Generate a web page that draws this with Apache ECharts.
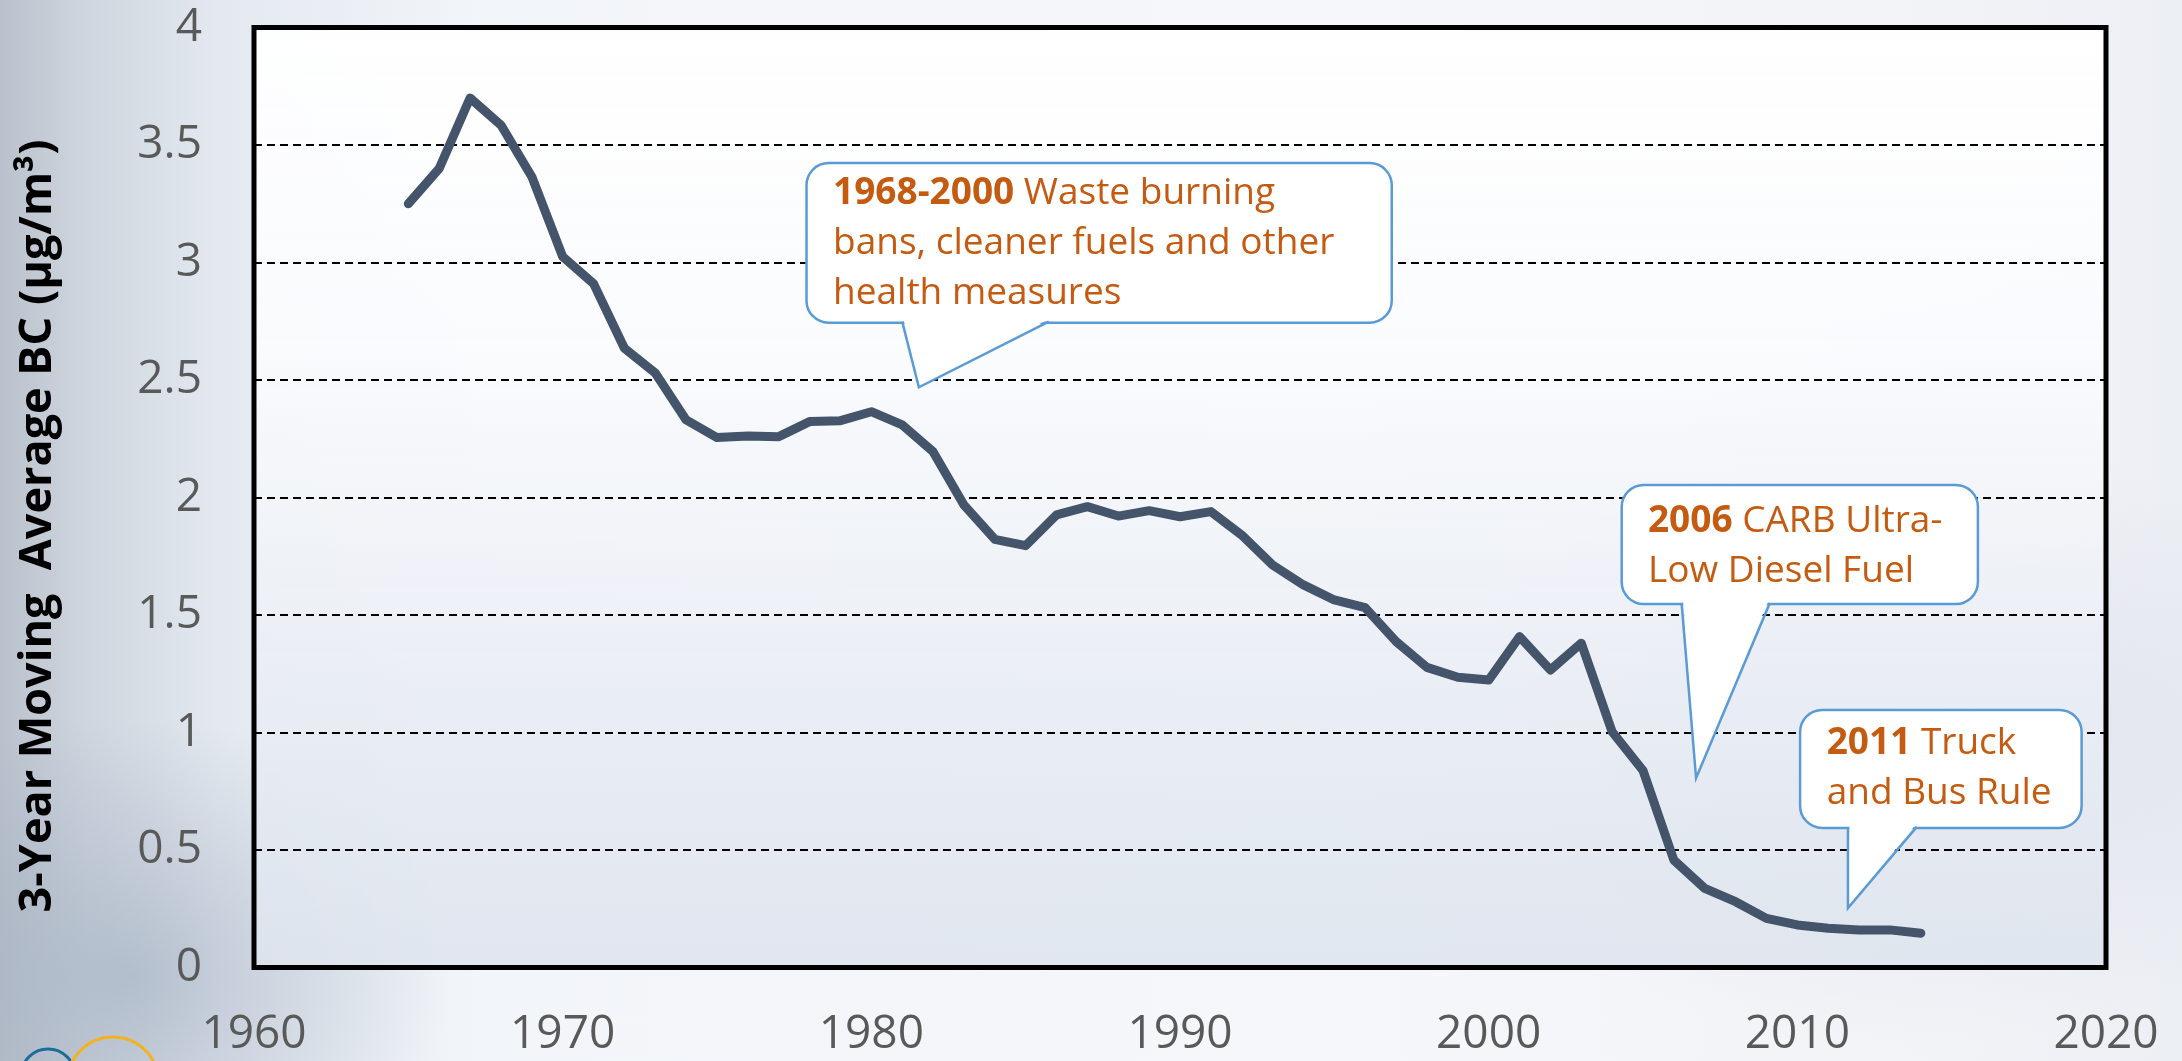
<!DOCTYPE html>
<html>
<head>
<meta charset="utf-8">
<script src="https://cdn.jsdelivr.net/npm/echarts/dist/echarts.min.js"></script>
<style>
html, body { margin: 0; padding: 0; width: 2182px; height: 1061px; overflow: hidden; }
body {
  background:
    radial-gradient(ellipse 320px 260px at 6% 92%, rgba(150,165,185,0.55), rgba(150,165,185,0) 100%),
    radial-gradient(ellipse 500px 300px at 88% 70%, rgba(205,210,222,0.45), rgba(205,210,222,0) 100%),
    linear-gradient(90deg, #b9c1cc 0%, #cfd6df 4%, #e4e9f0 10%, #f2f5f9 22%, #f5f7fa 60%, #f1f3f7 90%, #eceff4 100%);
}
#chart { width: 2182px; height: 1061px; }
</style>
</head>
<body>
<div id="chart"></div>
<script>
// ---- data ----
const years = [1965, 1966, 1967, 1968, 1969, 1970, 1971, 1972, 1973, 1974,
               1975, 1976, 1977, 1978, 1979, 1980, 1981, 1982, 1983, 1984,
               1985, 1986, 1987, 1988, 1989, 1990, 1991, 1992, 1993, 1994,
               1995, 1996, 1997, 1998, 1999, 2000, 2001, 2002, 2003, 2004,
               2005, 2006, 2007, 2008, 2009, 2010, 2011, 2012, 2013, 2014];
const bcValues = [3.25, 3.40, 3.70, 3.585, 3.365, 3.025, 2.91, 2.635, 2.53, 2.33,
                  2.255, 2.262, 2.259, 2.323, 2.327, 2.365, 2.309, 2.195, 1.968, 1.822,
                  1.795, 1.926, 1.961, 1.921, 1.944, 1.918, 1.940, 1.840, 1.713, 1.628,
                  1.564, 1.531, 1.387, 1.277, 1.235, 1.223, 1.408, 1.266, 1.380, 1.003,
                  0.838, 0.457, 0.337, 0.280, 0.209, 0.181, 0.167, 0.160, 0.160, 0.146];
const xRange = [1960, 2020, 10];
const yRange = [0, 4, 0.5];
const yAxisTitle = '3-Year Moving  Average BC (μg/m³)';

// callout texts (bold lead + rest, per line)
const calloutTexts = [
  { bold: '1968-2000', lines: [' Waste burning', 'bans, cleaner fuels and other', 'health measures'] },
  { bold: '2006', lines: [' CARB Ultra-', 'Low Diesel Fuel'] },
  { bold: '2011', lines: [' Truck', 'and Bus Rule'] }
];
// callout anchors in data space: box [x0, x1, yTop, yBottom], tail [baseL, baseR, tipX, tipY], text [x, yTopOfBlock]
const calloutAnchors = [
  { box: [1977.9, 1996.86, 3.423, 2.744], tail: [1981.0, 1985.75, 1981.54, 2.469], text: [1978.76, 3.402] },
  { box: [2004.31, 2015.85, 2.053, 1.547], tail: [2006.25, 2009.11, 2006.72, 0.806], text: [2005.16, 2.004] },
  { box: [2010.09, 2019.21, 1.096, 0.594], tail: [2011.64, 2013.87, 2011.64, 0.253], text: [2010.95, 1.058] }
];

const chart = echarts.init(document.getElementById('chart'), null, { renderer: 'canvas' });

const labelFont = { fontFamily: '"Open Sans", "Noto Sans", sans-serif', fontSize: 46, color: '#595959' };

const option = {
  backgroundColor: 'transparent',
  animation: false,
  grid: {
    left: 254, right: 76, top: 27.5, bottom: 93.5,
    show: true,
    borderColor: '#000', borderWidth: 5,
    backgroundColor: new echarts.graphic.LinearGradient(0, 0, 0, 1, [
      { offset: 0, color: 'rgba(255,255,255,0.96)' },
      { offset: 0.35, color: 'rgba(250,251,253,0.92)' },
      { offset: 0.7, color: 'rgba(233,237,244,0.9)' },
      { offset: 1, color: 'rgba(222,228,238,0.9)' }
    ])
  },
  xAxis: {
    type: 'value', min: xRange[0], max: xRange[1], interval: xRange[2],
    axisLine: { show: false }, axisTick: { show: false }, splitLine: { show: false },
    axisLabel: Object.assign({ margin: 44, formatter: v => String(v) }, labelFont)
  },
  yAxis: {
    type: 'value', min: yRange[0], max: yRange[1], interval: yRange[2],
    axisLine: { show: false }, axisTick: { show: false },
    splitLine: { show: true, lineStyle: { color: '#000', width: 1.8, type: [8, 5] } },
    axisLabel: Object.assign({ margin: 52 }, labelFont)
  },
  series: [{
    type: 'line',
    data: years.map((y, i) => [y, bcValues[i]]),
    showSymbol: false,
    symbol: 'none',
    lineStyle: { color: '#44546A', width: 9, cap: 'round', join: 'round' },
    z: 5
  }]
};
chart.setOption(option);

function px(x, y) { return chart.convertToPixel({ gridIndex: 0 }, [x, y]); }

const graphics = [];
// y axis title
graphics.push({
  type: 'text', x: 38, y: 526, rotation: Math.PI / 2, z: 50,
  style: {
    text: yAxisTitle, fill: '#000',
    font: 'bold 45px "Open Sans", "Noto Sans", sans-serif',
    textAlign: 'center', textVerticalAlign: 'middle', align: 'center', verticalAlign: 'middle'
  }
});
// decorative logo arcs at bottom-left corner
graphics.push({ type: 'circle', shape: { cx: 113, cy: 1083, r: 46 }, style: { fill: 'none', stroke: '#F2B31E', lineWidth: 3 }, z: 50 });
graphics.push({ type: 'circle', shape: { cx: 48, cy: 1076, r: 27 }, style: { fill: 'none', stroke: '#1C6D99', lineWidth: 3 }, z: 49 });

const calloutColor = '#C55A11';
const richStyle = {
  b: { fontFamily: '"Open Sans", "Noto Sans", sans-serif', fontWeight: 'bold', fontSize: 37, lineHeight: 50, fill: calloutColor },
  n: { fontFamily: '"Open Sans", "Noto Sans", sans-serif', fontWeight: 'normal', fontSize: 37, lineHeight: 50, fill: calloutColor }
};
calloutAnchors.forEach((a, i) => {
  const p0 = px(a.box[0], a.box[2]);
  const p1 = px(a.box[1], a.box[3]);
  const bl = px(a.tail[0], 0)[0];
  const br = px(a.tail[1], 0)[0];
  const tip = px(a.tail[2], a.tail[3]);
  const yBot = p1[1];
  graphics.push({
    type: 'rect', z: 100,
    shape: { x: p0[0], y: p0[1], width: p1[0] - p0[0], height: p1[1] - p0[1], r: 22 },
    style: { fill: '#fff', stroke: '#5B9BD5', lineWidth: 2.5 }
  });
  graphics.push({
    type: 'polygon', z: 101,
    shape: { points: [[bl + 1.5, yBot - 3], [tip[0], tip[1]], [br - 1.5, yBot - 3]] },
    style: { fill: '#fff', stroke: null }
  });
  graphics.push({
    type: 'polyline', z: 102,
    shape: { points: [[bl, yBot - 1], [tip[0], tip[1]], [br, yBot - 1]] },
    style: { fill: null, stroke: '#5B9BD5', lineWidth: 2.5, lineJoin: 'miter' }
  });
  const t = calloutTexts[i];
  const lines = t.lines.map((l, k) => (k === 0 ? '{b|' + t.bold + '}{n|' + l + '}' : '{n|' + l + '}'));
  const tp = px(a.text[0], a.text[1]);
  graphics.push({
    type: 'text', z: 103, x: tp[0], y: tp[1],
    style: {
      text: lines.join('\n'), rich: richStyle, fill: calloutColor,
      textAlign: 'left', textVerticalAlign: 'top', align: 'left', verticalAlign: 'top'
    }
  });
});
chart.setOption({ graphic: graphics });
</script>
</body>
</html>
